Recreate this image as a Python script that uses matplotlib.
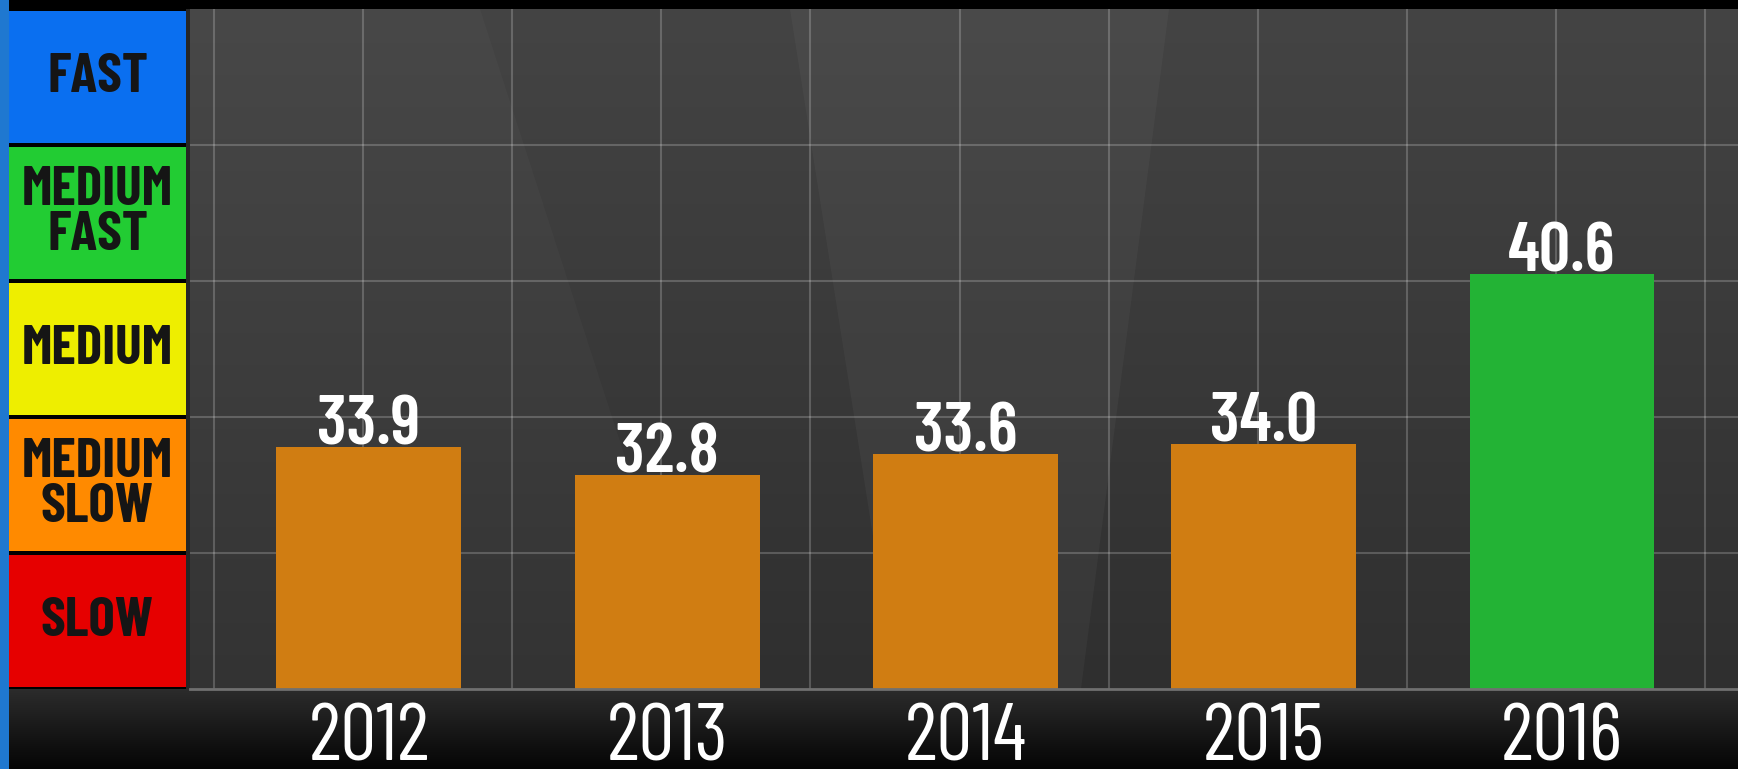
import numpy as np
import matplotlib.pyplot as plt
from matplotlib.colors import LinearSegmentedColormap
from matplotlib.patches import Polygon, Rectangle

years = ['2012', '2013', '2014', '2015', '2016']
speeds = [33.9, 32.8, 33.6, 34.0, 40.6]
bar_colors = ['#d07d12', '#d07d12', '#d07d12', '#d07d12', '#23b335']

levels = ['SLOW', 'MEDIUM\nSLOW', 'MEDIUM', 'MEDIUM\nFAST', 'FAST']
level_colors = ['#e60000', '#ff8a00', '#eeee00', '#22cc33', '#0a6ff0']

W, H = 1738, 769
plt.rcParams['font.family'] = ['Barlow Condensed', 'DejaVu Sans']

fig = plt.figure(figsize=(W / 100, H / 100), dpi=100)
fig.patch.set_facecolor('black')

# backdrop, drawn in pixel coordinates
bg = fig.add_axes([0, 0, 1, 1])
bg.set_xlim(0, W)
bg.set_ylim(H, 0)
bg.axis('off')
grad = np.linspace(0, 1, 256).reshape(-1, 1)
bg.imshow(grad, extent=(186, W, 689, 9), aspect='auto', zorder=0,
          cmap=LinearSegmentedColormap.from_list('bgc', ['#444444', '#2f2f2f']))
bg.add_patch(Polygon([(186, 9), (480, 9), (700, 689), (186, 689)], closed=True,
                     facecolor='white', alpha=0.025, lw=0, zorder=1))
bg.add_patch(Polygon([(790, 9), (1169, 9), (1081, 689), (897, 689)], closed=True,
                     facecolor='white', alpha=0.035, lw=0, zorder=1))
bg.imshow(grad, extent=(0, W, H, 689), aspect='auto', zorder=0,
          cmap=LinearSegmentedColormap.from_list('bot', ['#2c2c2c', '#050505']))
bg.add_patch(Rectangle((0, 0), 9, H, facecolor='#1f78d0', lw=0, zorder=2))
bg.add_patch(Rectangle((186, 9), 4, 680, facecolor='#262626', lw=0, zorder=2))

# speed legend column
leg = fig.add_axes([9 / W, (H - 689) / H, 177 / W, 680 / H])
leg.set_xlim(0, 1)
leg.set_ylim(0, len(levels))
leg.axis('off')
for i, (name, col) in enumerate(zip(levels, level_colors)):
    leg.bar(0.5, 0.97, bottom=i + 0.015, width=1, color=col, linewidth=0)
    leg.text(0.5, i + 0.5, name, ha='center', va='center', fontsize=40,
             fontweight='bold', color='#151515', linespacing=0.92)

# bar chart
ax = fig.add_axes([190 / W, (H - 689) / H, (W - 190) / W, 680 / H])
ax.set_facecolor('none')
x = np.arange(len(years))
ax.bar(x, speeds, width=0.62, color=bar_colors, linewidth=0, zorder=2)
ax.set_xlim(-0.6, 4.59)
ax.set_ylim(24.48, 50.9)
y0, y1 = ax.get_ylim()
ax.set_yticks(np.linspace(y0, y1, 6)[1:-1])
ax.set_xticks(np.arange(-0.5, 4.6, 0.5) - 0.02)
ax.grid(True, color='white', alpha=0.2, linewidth=1.5, zorder=3)
ax.tick_params(length=0, labelleft=False, labelbottom=False)
for s in ['top', 'right', 'left']:
    ax.spines[s].set_visible(False)
ax.spines['bottom'].set_color('#707070')
ax.spines['bottom'].set_linewidth(2)

for xi, v in zip(x, speeds):
    ax.text(xi, v - 0.45, f'{v:.1f}', ha='center', va='bottom', fontsize=50,
            fontweight='semibold', color='white', zorder=4)
    ax.text(xi, y0 - 0.55, years[xi], ha='center', va='top', fontsize=58,
            fontweight='normal', color='white', zorder=4, clip_on=False)

fig.savefig('out.png', dpi=100, facecolor=fig.get_facecolor())
